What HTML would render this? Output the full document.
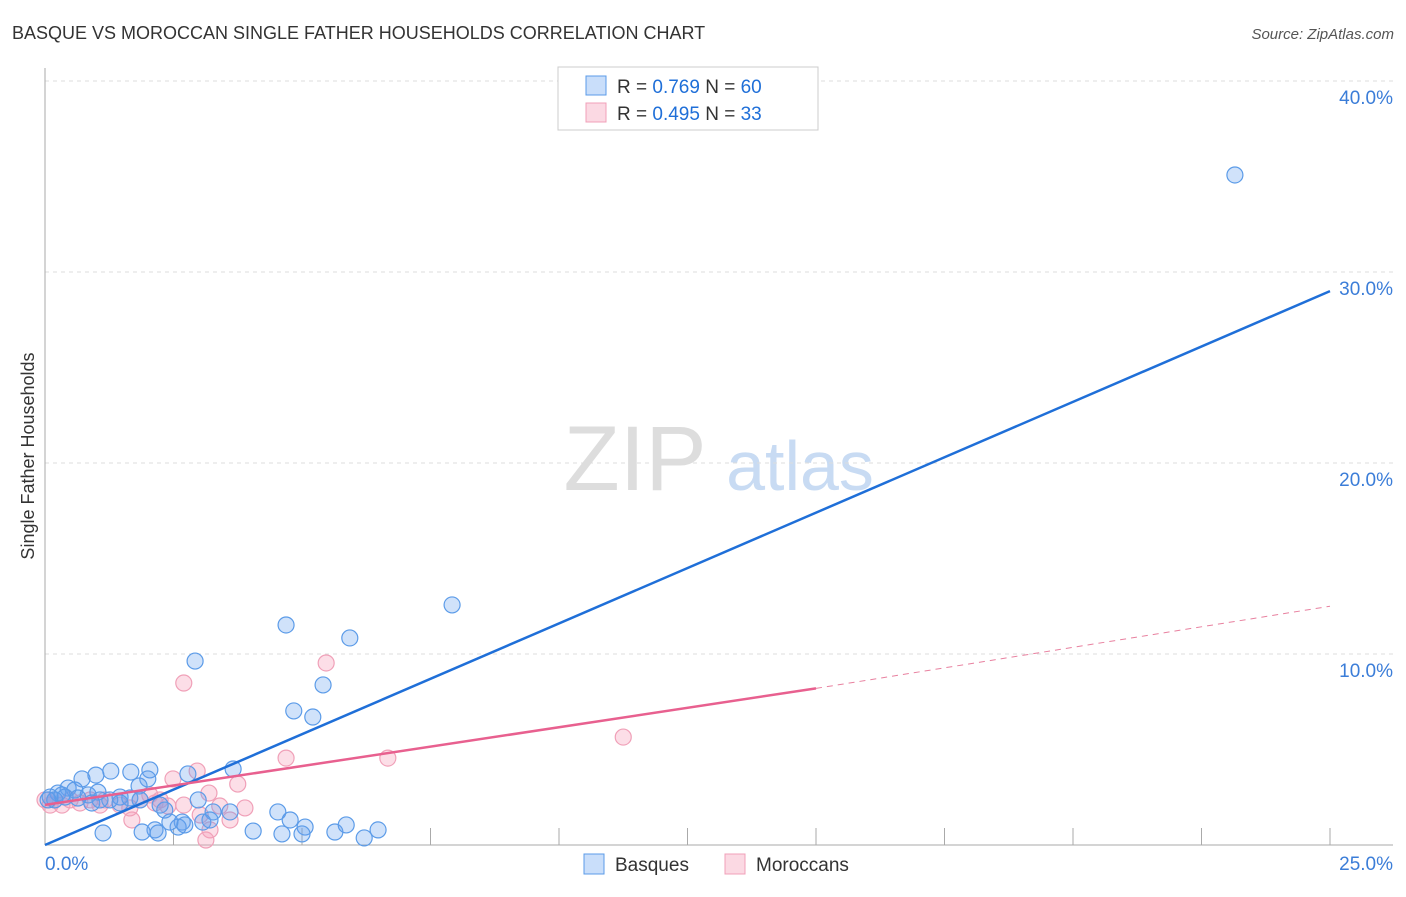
<!DOCTYPE html>
<html><head><meta charset="utf-8"><style>
body{margin:0;background:#fff;font-family:"Liberation Sans",sans-serif}
svg text{font-family:"Liberation Sans",sans-serif}
</style></head><body>
<svg id="chart" width="1406" height="892">
<text x="12" y="39" font-size="18" fill="#333">BASQUE VS MOROCCAN SINGLE FATHER HOUSEHOLDS CORRELATION CHART</text>
<text x="1394" y="39" font-size="15" fill="#555" font-style="italic" text-anchor="end">Source: ZipAtlas.com</text>
<text x="34" y="456" font-size="18" fill="#333" text-anchor="middle" transform="rotate(-90 34 456)">Single Father Households</text>
<g><text x="635" y="490" font-size="92" fill="#ddd" font-family="Liberation Serif" text-anchor="middle">ZIP</text><text x="800" y="490" font-size="70" fill="#c8dbf3" text-anchor="middle">atlas</text></g>
<g id="grid"></g><g id="axes"></g><g id="marks"></g><g id="lines"></g>
<g>
<rect x="558" y="67" width="260" height="63" fill="#fff" stroke="#ccc"/>
<rect x="586" y="76" width="20" height="19" fill="rgba(100,160,240,0.35)" stroke="#5b9be8"/>
<rect x="586" y="103" width="20" height="19" fill="rgba(245,160,185,0.4)" stroke="#f0a0b8"/>
<text x="617" y="93" font-size="19" fill="#333">R = <tspan fill="#1f6fd8">0.769</tspan>   N = <tspan fill="#1f6fd8">60</tspan></text>
<text x="617" y="120" font-size="19" fill="#333">R = <tspan fill="#1f6fd8">0.495</tspan>   N = <tspan fill="#1f6fd8">33</tspan></text>
</g>
<g>
<rect x="584" y="854" width="20" height="20" fill="rgba(100,160,240,0.35)" stroke="#5b9be8"/>
<text x="615" y="871" font-size="19" fill="#333">Basques</text>
<rect x="725" y="854" width="20" height="20" fill="rgba(245,160,185,0.4)" stroke="#f0a0b8"/>
<text x="756" y="871" font-size="19" fill="#333">Moroccans</text>
</g>
</svg>
<script>
const xTicks=[0,25];
const yTicks=[10,20,30,40];
const basqueX=[23.15,7.92,4.69,5.93,2.92,5.41,4.84,5.21,3.66,2.78,2.04,1.28,0.99,0.72,1.67,2.00,1.83,0.45,0.58,0.25,0.10,0.33,0.84,1.03,1.46,1.65,0.91,1.26,1.46,2.33,2.98,3.27,3.60,4.53,4.77,5.06,3.07,2.67,2.59,2.43,2.14,2.20,1.89,1.13,4.05,4.61,5.00,5.64,5.86,6.48,6.21,0.19,0.06,0.39,0.64,1.85,1.07,2.24,3.21,2.72];
const basqueY=[35.08,12.57,11.52,10.84,9.63,8.38,7.02,6.70,3.98,3.72,3.93,3.87,3.66,3.46,3.82,3.46,3.09,2.98,2.88,2.72,2.51,2.62,2.62,2.77,2.51,2.46,2.20,2.36,2.20,1.83,2.36,1.73,1.73,1.73,1.31,0.94,1.20,1.20,0.94,1.20,0.79,0.63,0.68,0.63,0.73,0.58,0.58,0.68,1.05,0.79,0.37,2.36,2.36,2.51,2.46,2.36,2.36,2.09,1.31,1.05];
const moroccanX=[2.70,5.47,6.67,11.25,4.69,2.96,2.49,3.19,3.75,3.40,3.89,2.70,2.39,2.14,2.04,1.69,3.21,3.13,3.60,0.10,0.19,0,0.33,0.68,1.17,1.46,1.85,0.88,0.49,1.07,2.24,3.02,1.65];
const moroccanY=[8.48,9.53,4.55,5.65,4.55,3.87,3.46,2.72,3.19,2.04,1.94,2.09,2.04,2.20,2.62,1.31,0.79,0.26,1.31,2.09,2.36,2.36,2.09,2.20,2.36,2.09,2.36,2.36,2.36,2.09,2.36,1.57,1.94];
const basqueLine=[0,0,25,29.0];
const moroccanLine=[0,2.1,15,8.2,25,12.5];
const X0=45,X1=1330,Y0=845,PXY=19.1;
const sx=v=>X0+(X1-X0)*v/25, sy=v=>Y0-v*PXY;
const NS="http://www.w3.org/2000/svg";
function mk(parent,tag,attrs){const e=document.createElementNS(NS,tag);for(const k in attrs)e.setAttribute(k,attrs[k]);document.getElementById(parent).appendChild(e);return e;}
yTicks.forEach(t=>{
 let g=mk('grid','line',{x1:45,x2:1393,y1:sy(t),y2:sy(t),stroke:'#ddd','stroke-dasharray':'4,4'});
 
 
 let l=mk('axes','text',{x:1393,y:sy(t)+23,'font-size':19,fill:'#3b7dd8','text-anchor':'end'});l.textContent=t.toFixed(1)+'%';
 
 
});
mk('axes','line',{x1:45,x2:45,y1:68,y2:845,stroke:'#aaa'});
mk('axes','line',{x1:45,x2:1393,y1:845,y2:845,stroke:'#aaa'});
for(let i=1;i<=10;i++){let x=sx(i*2.5);let t=mk('axes','line',{x1:x,x2:x,y1:828,y2:845,stroke:'#aaa'});
 
 }
xTicks.forEach((t,i)=>{let l=mk('axes','text',{x:i?1393:45,y:870,'font-size':19,fill:'#3b7dd8','text-anchor':i?'end':'start'});l.textContent=t.toFixed(1)+'%';
 
 });
moroccanX.forEach((v,i)=>{let c=mk('marks','circle',{cx:sx(v),cy:sy(moroccanY[i]),r:8,fill:'rgba(245,160,185,0.35)',stroke:'#f0a0b8','stroke-width':1.2});
 
 });
basqueX.forEach((v,i)=>{let c=mk('marks','circle',{cx:sx(v),cy:sy(basqueY[i]),r:8,fill:'rgba(100,160,240,0.3)',stroke:'#5b9be8','stroke-width':1.2});
 
 });
let bl=mk('lines','line',{x1:sx(basqueLine[0]),y1:sy(basqueLine[1]),x2:sx(basqueLine[2]),y2:sy(basqueLine[3]),stroke:'#1f6fd8','stroke-width':2.5});


let ml=mk('lines','line',{x1:sx(moroccanLine[0]),y1:sy(moroccanLine[1]),x2:sx(moroccanLine[2]),y2:sy(moroccanLine[3]),stroke:'#e8608f','stroke-width':2.5});


let md=mk('lines','line',{x1:sx(moroccanLine[2]),y1:sy(moroccanLine[3]),x2:sx(moroccanLine[4]),y2:sy(moroccanLine[5]),stroke:'#e8809f','stroke-width':1,'stroke-dasharray':'6,5'});


</script>
</body></html>
